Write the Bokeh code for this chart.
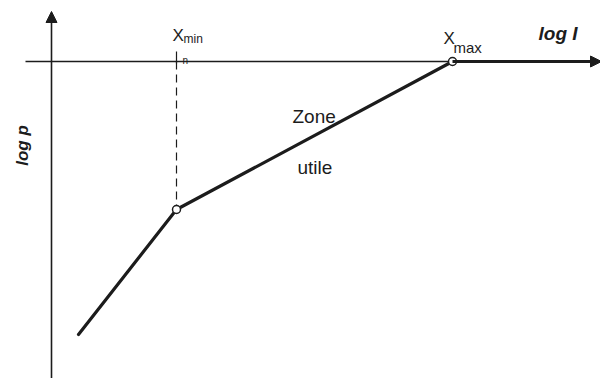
from bokeh.plotting import figure
from bokeh.models import Range1d, Arrow, NormalHead
from bokeh.core.properties import value
from bokeh.embed import file_html
from bokeh.resources import INLINE
import math

# Schematic data (log I on x, log p on y; origin at axes intersection)
curve_x = [27, 125, 401]
curve_y = [-273, -148, 0]
point_x = [125, 401]
point_y = [-148, 0]
point_names = ["X", "X"]
point_subs = ["min", "max"]
axis_x_end = 550
axis_y_top = 50
axis_y_bottom = -318
axis_x_start = -26

INK = "#1c1c1c"
FONT = value("Liberation Sans")

p = figure(width=600, height=378, output_backend="svg", toolbar_location=None,
           x_range=Range1d(-51, 549), y_range=Range1d(-317, 61),
           x_axis_location=None, y_axis_location=None, min_border=0)
p.grid.visible = False
p.outline_line_color = None
p.background_fill_color = "white"

# vertical axis with arrow
p.add_layout(Arrow(x_start=0, y_start=axis_y_bottom, x_end=0, y_end=axis_y_top,
                   line_color=INK, line_width=1.6,
                   end=NormalHead(size=11, fill_color=INK, line_color=INK, line_width=1)))
# horizontal axis thin part
p.line([axis_x_start, point_x[1]], [0, 0], line_color=INK, line_width=1.4)
# horizontal axis thick part with arrow
p.add_layout(Arrow(x_start=point_x[1], y_start=0, x_end=axis_x_end, y_end=0,
                   line_color=INK, line_width=3,
                   end=NormalHead(size=11, fill_color=INK, line_color=INK, line_width=1)))

# dashed drop line from Xmin to axis
p.line([point_x[0], point_x[0]], [0, point_y[0]], line_color=INK, line_width=1.2,
       line_dash="8 5")
# small tick at Xmin
p.line([point_x[0], point_x[0]], [-2, 10], line_color=INK, line_width=1.2)
p.text(x=[point_x[0] + 6], y=[1], text=["n"], text_font=FONT, text_font_size="10px",
       text_color=INK, text_baseline="alphabetic", text_align="left")

# curve
p.line(curve_x, curve_y, line_color=INK, line_width=3.2, line_cap="round", line_join="round")
p.scatter(point_x, point_y, size=8, fill_color="white", line_color=INK, line_width=1.5)

# labels X_min / X_max
p.text(x=[point_x[0] - 4, point_x[1] - 9], y=[26, 23], text=point_names, text_font=FONT,
       text_font_size="17px", text_color=INK, text_baseline="alphabetic", text_align="left")
p.text(x=[point_x[0] + 7], y=[23], text=[point_subs[0]], text_font=FONT,
       text_font_size="12px", text_color=INK, text_baseline="alphabetic", text_align="left")
p.text(x=[point_x[1] + 1], y=[14], text=[point_subs[1]], text_font=FONT,
       text_font_size="15px", text_color=INK, text_baseline="alphabetic", text_align="left")

# axis titles
p.text(x=[487], y=[28], text=["log I"], text_font=FONT, text_font_size="19px",
       text_font_style="bold italic", text_color=INK, text_baseline="alphabetic",
       text_align="left")
p.text(x=[-29], y=[-84], text=["log p"], text_font=FONT, text_font_size="17px",
       text_font_style="bold italic", text_color=INK, text_baseline="middle",
       text_align="center", angle=math.pi / 2)

# zone label
p.text(x=[241, 246], y=[-55, -106], text=["Zone", "utile"], text_font=FONT,
       text_font_size="19px", text_color=INK, text_baseline="alphabetic", text_align="left")

open("out.html", "w").write(file_html(p, INLINE))
